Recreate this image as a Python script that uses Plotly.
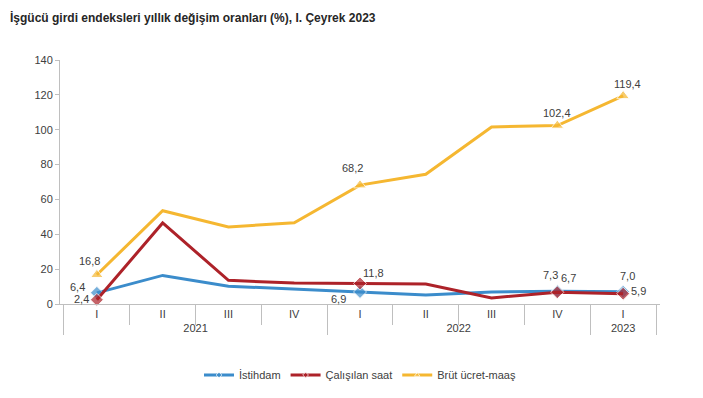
import plotly.graph_objects as go

years = ["2021"] * 4 + ["2022"] * 4 + ["2023"]
quarters = ["I", "II", "III", "IV", "I", "II", "III", "IV", "I"]

istihdam = [6.4, 16.4, 10.2, 8.6, 6.9, 5.2, 6.9, 7.3, 7.0]
calisilan = [2.4, 46.5, 13.6, 12.0, 11.8, 11.5, 3.5, 6.7, 5.9]
brut = [16.8, 53.5, 44.2, 46.6, 68.2, 74.4, 101.6, 102.4, 119.4]

labeled = [0, 4, 7, 8]
# label offsets (px) relative to the data point: (dx, dy up)
off_ist = {0: (-19, 6), 4: (-22, -7), 7: (-7, 16), 8: (4, 16)}
off_cal = {0: (-15, 1), 4: (13, 10), 7: (11, 14), 8: (15, 3)}
off_brut = {0: (-7, 14), 4: (-8, 17), 7: (0, 13), 8: (4, 12)}

BLUE = "#3b8ccb"
RED = "#ad2229"
YELLOW = "#f5b731"
FONT = "Liberation Sans, Arial, sans-serif"


def fmt(v):
    return f"{v:.1f}".replace(".", ",")


def trace(name, vals, color, symbol, msize):
    sizes = [msize if i in labeled else 0 for i in range(len(vals))]
    return go.Scatter(
        x=[years, quarters], y=vals, name=name, mode="lines+markers",
        line=dict(color=color, width=3),
        marker=dict(color=color, symbol=symbol, size=sizes),
        cliponaxis=False,
    )


fig = go.Figure()
fig.add_trace(trace("İstihdam", istihdam, BLUE, "diamond", 10))
fig.add_trace(trace("Çalışılan saat", calisilan, RED, "diamond", 10))
fig.add_trace(trace("Brüt ücret-maaş", brut, YELLOW, "triangle-up", 11))

for vals, offs in ((istihdam, off_ist), (calisilan, off_cal), (brut, off_brut)):
    for i in labeled:
        dx, dy = offs[i]
        fig.add_annotation(x=i, y=vals[i], xref="x", yref="y", text=fmt(vals[i]),
                           showarrow=False, xshift=dx, yshift=dy,
                           font=dict(size=11, color="#404040", family=FONT))

fig.update_layout(
    width=703, height=398,
    margin=dict(l=60, r=43, t=60, b=94),
    paper_bgcolor="white", plot_bgcolor="white",
    font=dict(family=FONT, size=11, color="#404040"),
    title=dict(text="<b>İşgücü girdi endeksleri yıllık değişim oranları (%), I. Çeyrek 2023</b>",
               xref="container", x=10 / 703, xanchor="left",
               yref="container", y=1 - 18 / 398, yanchor="middle",
               font=dict(size=12, color="#262626", family=FONT)),
    legend=dict(orientation="h", xref="paper", x=0.5, xanchor="center",
                yref="container", y=1 - 375 / 398, yanchor="middle",
                font=dict(size=11, color="#404040"), itemwidth=30),
    showlegend=True,
)
fig.update_yaxes(range=[0, 140], dtick=20, showgrid=False, zeroline=False,
                 showline=True, linecolor="#bfbfbf", linewidth=1,
                 ticks="outside", ticklen=4, tickcolor="#bfbfbf",
                 tickfont=dict(size=11, color="#404040"), automargin=False)
fig.update_xaxes(type="multicategory", showgrid=False, showline=True,
                 linecolor="#bfbfbf", linewidth=1,
                 ticks="outside", ticklen=20, tickcolor="#bfbfbf",
                 showdividers=True, dividercolor="#bfbfbf", dividerwidth=1,
                 tickfont=dict(size=11, color="#404040"), automargin=False)

fig.write_html("out.html", post_script="document.body.style.margin='0';",
               config={"displayModeBar": False})
